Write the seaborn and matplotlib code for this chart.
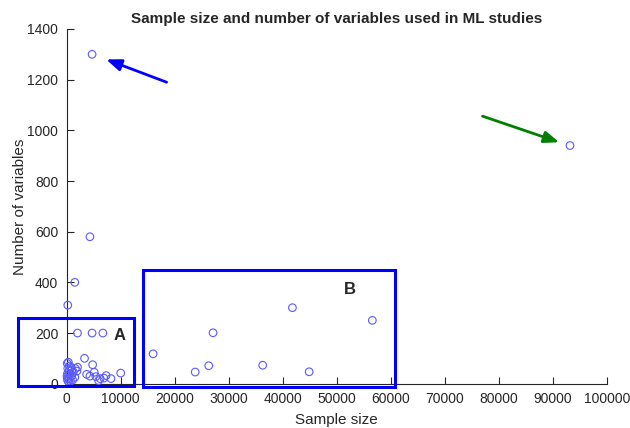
import numpy as np
import pandas as pd
import matplotlib
matplotlib.use("Agg")
import matplotlib.pyplot as plt
import seaborn as sns
from matplotlib.patches import Rectangle

# ---- data ----
sample_size = [
    4700, 93200, 4300, 1500, 200, 2000, 4700, 6700,
    16000, 23800, 26300, 27100, 36300, 41800, 44900, 56600,
    3300, 4800, 10000, 3700, 4300, 5100, 5400, 5900, 6200, 7300, 6900, 8200,
    100, 300, 500, 200, 800, 400, 1000, 150, 600, 1200, 300, 900, 100, 500,
    1500, 200, 700, 1100, 400, 1600, 1900, 2000, 50,
]
num_variables = [
    1300, 940, 580, 400, 310, 200, 200, 200,
    118, 46, 71, 201, 73, 300, 47, 250,
    100, 75, 42, 37, 30, 45, 28, 12, 20, 32, 22, 20,
    80, 85, 70, 60, 65, 50, 55, 40, 40, 45, 30, 30, 20, 20,
    25, 12, 10, 15, 5, 60, 50, 65, 30,
]
x_ticks = [0, 10000, 20000, 30000, 40000, 50000, 60000, 70000, 80000, 90000, 100000]
y_ticks = [0, 200, 400, 600, 800, 1000, 1200, 1400]

df = pd.DataFrame({"Sample size": sample_size, "Number of variables": num_variables})

sns.set_style("white")
plt.rcParams["font.family"] = ["Liberation Sans", "DejaVu Sans"]

fig = plt.figure(figsize=(6.3, 4.28), dpi=100)
ax = fig.add_axes([66.7 / 630, 1 - 383.7 / 428, 540 / 630, (383.7 - 29) / 428])

sns.scatterplot(data=df, x="Sample size", y="Number of variables", ax=ax,
                marker="o", s=30, facecolor="none", edgecolor="#5a5aff",
                linewidth=0.8, clip_on=False, zorder=3)
for c in ax.collections:
    c.set_facecolor("none")
    c.set_edgecolor("#5a5aff")

ax.set_xlim(0, 100000)
ax.set_ylim(0, 1400)
ax.set_xticks(x_ticks)
ax.set_yticks(y_ticks)
ax.set_xticklabels([str(t) for t in x_ticks])
ax.set_yticklabels([str(t) for t in y_ticks])
for s in ["top", "right"]:
    ax.spines[s].set_visible(False)
for s in ["left", "bottom"]:
    ax.spines[s].set_color("#262626")
    ax.spines[s].set_linewidth(0.8)
ax.tick_params(bottom=True, left=True, direction="in", length=5, width=0.8,
               color="#262626", labelcolor="#262626", labelsize=10, pad=6)
ax.set_xlabel("Sample size", fontsize=11, color="#262626", labelpad=5)
ax.set_ylabel("Number of variables", fontsize=11, color="#262626", labelpad=0)
ax.set_title("Sample size and number of variables used in ML studies",
             fontsize=11, fontweight="bold", pad=4)

# annotation boxes
rectA = Rectangle((-9000, -9), 21500, 268, fill=False, edgecolor="#0000ff",
                  linewidth=2.2, clip_on=False, zorder=4)
rectB = Rectangle((14100, -13), 46700, 462, fill=False, edgecolor="#0000ff",
                  linewidth=2.2, clip_on=False, zorder=4)
ax.add_patch(rectA)
ax.add_patch(rectB)
ax.text(9800, 190, "A", fontsize=12, fontweight="bold", ha="center", va="center")
ax.text(52400, 370, "B", fontsize=12, fontweight="bold", ha="center", va="center")

# arrows
ax.annotate("", xy=(7300, 1280), xytext=(18500, 1190),
            arrowprops=dict(arrowstyle="-|>,head_length=0.9,head_width=0.35",
                            color="#0000ff", lw=2.0, shrinkA=0, shrinkB=0))
ax.annotate("", xy=(91200, 953), xytext=(77000, 1056),
            arrowprops=dict(arrowstyle="-|>,head_length=0.9,head_width=0.35",
                            color="#008000", lw=2.0, shrinkA=0, shrinkB=0))

fig.savefig("out.png", dpi=100)
